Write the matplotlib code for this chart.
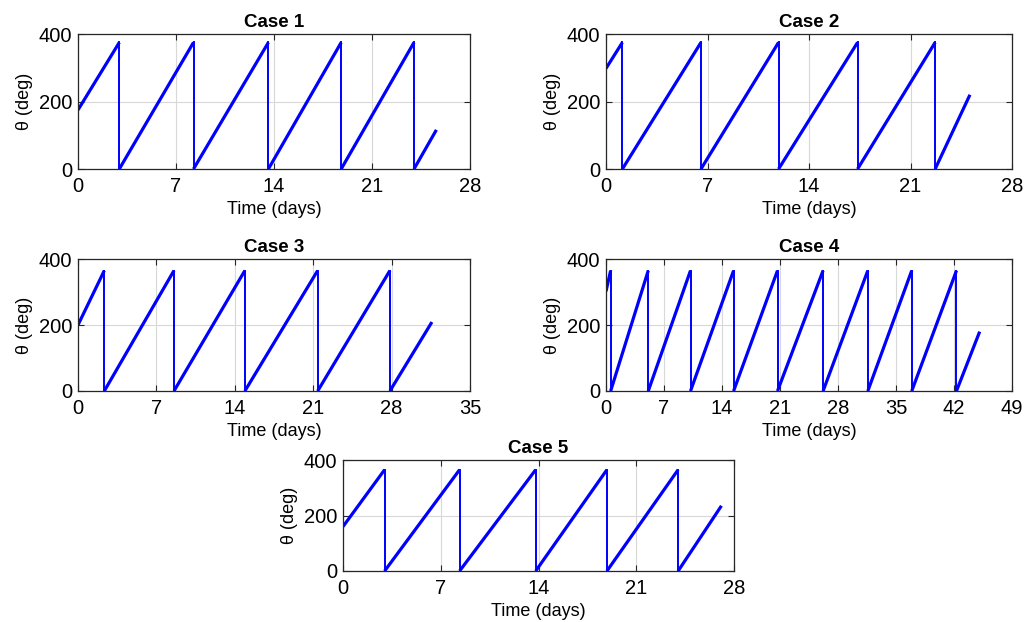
import numpy as np
import matplotlib
matplotlib.use('Agg')
matplotlib.rcParams.update({
    'font.family': ['Liberation Sans', 'DejaVu Sans'],
    'font.size': 13,
})
import matplotlib.pyplot as plt

# values: start angle, wrap times, peak, end point
case_names = ['Case 1', 'Case 2', 'Case 3', 'Case 4', 'Case 5']
start_vals = [175, 298, 200, 302, 160]
drop_days = [
    [2.95, 8.25, 13.6, 18.8, 24.0],
    [1.13, 6.55, 11.9, 17.35, 22.7],
    [2.35, 8.57, 14.9, 21.4, 27.85],
    [0.56, 5.1, 10.2, 15.4, 20.7, 26.2, 31.6, 36.9, 42.3],
    [2.98, 8.35, 13.8, 18.9, 24.0],
]
peak_vals = [375, 375, 365, 365, 365]
end_days = [25.6, 25.1, 31.6, 45.1, 27.1]
end_vals = [116, 220, 209, 180, 235]
x_max = [28, 28, 35, 49, 28]

# axes rectangles in pixels (left, top, right, bottom) on a 1026x622 canvas
W, H = 1026, 622
boxes = [
    (78, 34, 470, 169),
    (606, 34, 1012, 169),
    (78, 259, 470, 391),
    (606, 259, 1012, 391),
    (343, 460, 734, 571),
]

fig = plt.figure(figsize=(W / 100, H / 100), dpi=100, facecolor='white')

for i, name in enumerate(case_names):
    l, t, r, b = boxes[i]
    ax = fig.add_axes([l / W, 1 - b / H, (r - l) / W, (b - t) / H])

    # rising ramps (thick) and wrap-around drops (thin)
    seg_x0 = [0.0] + drop_days[i]
    seg_y0 = [start_vals[i]] + [0] * len(drop_days[i])
    seg_x1 = drop_days[i] + [end_days[i]]
    seg_y1 = [peak_vals[i]] * len(drop_days[i]) + [end_vals[i]]
    for x0, y0, x1, y1 in zip(seg_x0, seg_y0, seg_x1, seg_y1):
        ax.plot([x0, x1], [y0, y1], color='#0000ff', linewidth=2.3,
                solid_capstyle='butt')
    for d in drop_days[i]:
        ax.plot([d, d], [peak_vals[i], 0], color='#0000ff', linewidth=1.4)

    ax.set_xlim(0, x_max[i])
    ax.set_ylim(0, 400)
    ax.set_xticks(np.arange(0, x_max[i] + 1, 7))
    ax.set_yticks([0, 200, 400])
    ax.grid(True, color='#d8d8d8', linewidth=0.8, linestyle='-')
    ax.set_axisbelow(True)
    ax.tick_params(direction='in', top=True, right=True, labelsize=14.5,
                   length=4, color='#262626')
    ax.tick_params(axis='x', pad=6)
    ax.tick_params(axis='y', pad=4)
    for s in ax.spines.values():
        s.set_color('#262626')
        s.set_linewidth(0.9)
    ax.set_title(name, fontsize=13.5, fontweight='bold', pad=5)
    ax.set_xlabel('Time (days)', fontsize=13, labelpad=3)
    ax.set_ylabel('θ (deg)', fontsize=13, labelpad=4)

fig.savefig('out.png', dpi=100, facecolor='white')
